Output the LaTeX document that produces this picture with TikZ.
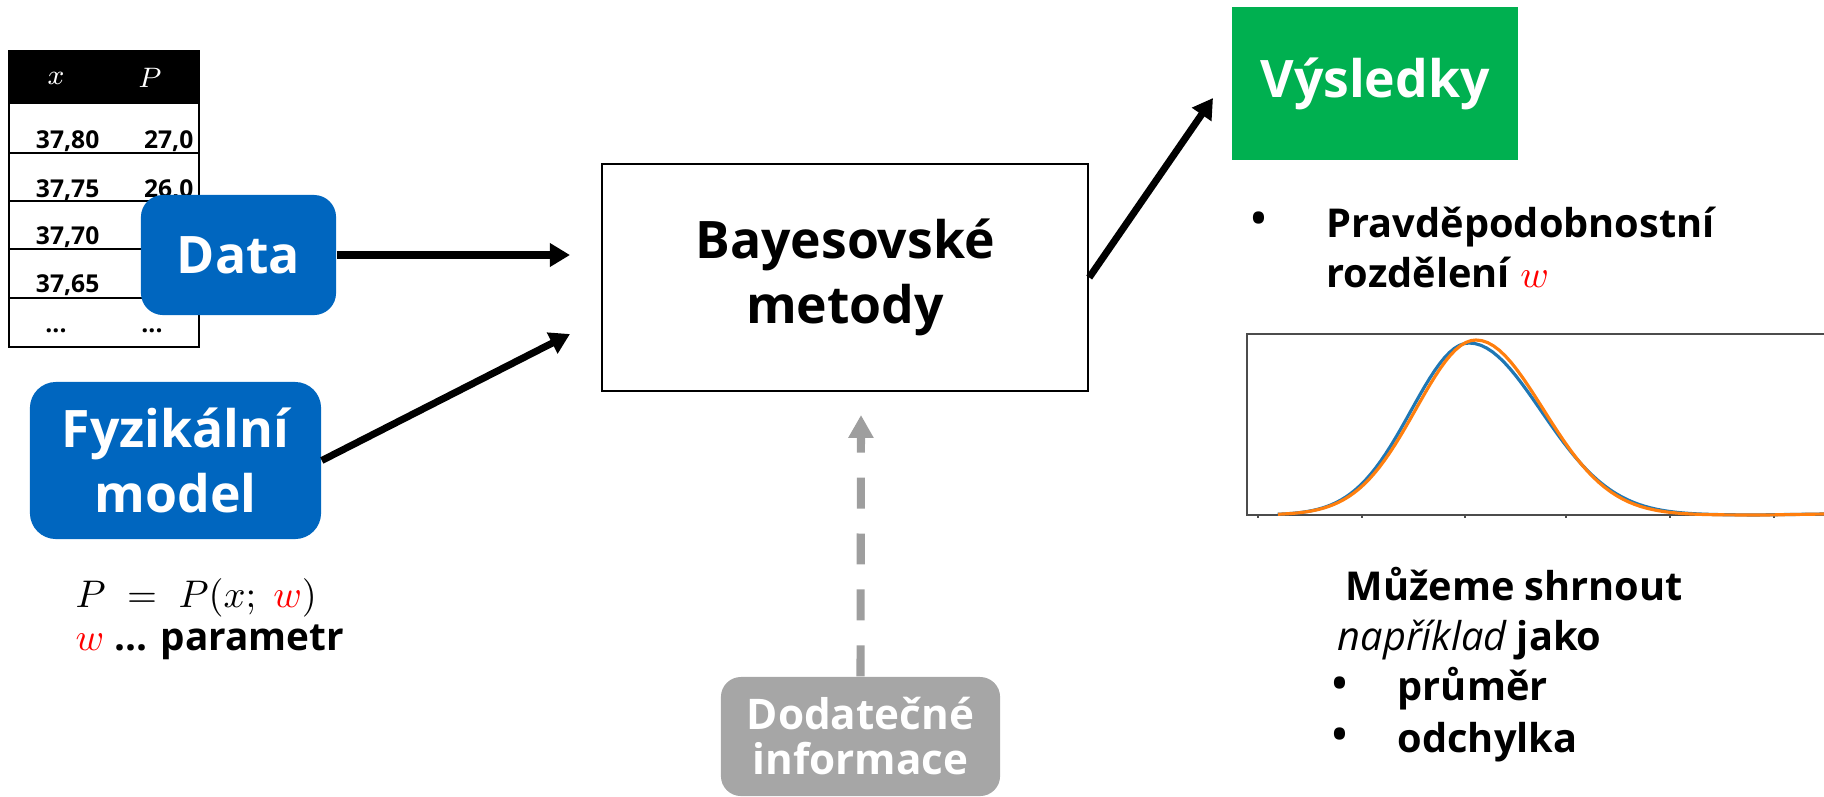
\documentclass[tikz,border=0pt]{standalone}
\usepackage{fontspec}
\setmainfont{Open Sans}
\usetikzlibrary{arrows.meta}

\definecolor{boxblue}{HTML}{0066BF}
\definecolor{resgreen}{HTML}{00B050}
\definecolor{infogray}{HTML}{A6A6A6}
\definecolor{plotblue}{HTML}{1F77B4}
\definecolor{plotorange}{HTML}{FF7F0E}

\newcommand{\boxfont}{\fontsize{14.7}{18.3}\selectfont\bfseries}
\newcommand{\infofont}{\fontsize{12}{12.8}\selectfont\bfseries}
\newcommand{\notefont}{\fontsize{11.3}{14}\selectfont\bfseries}
\newcommand{\eqfont}{\fontsize{11}{13}\selectfont\bfseries}
\newcommand{\cellfont}{\fontsize{7}{8}\selectfont\bfseries}

\begin{document}
\begin{tikzpicture}[x=0.01cm, y=-0.01cm,
    bluebox/.style={fill=boxblue, rounded corners=0.22cm, text=white, font=\boxfont, align=center, inner sep=0pt},
    cell/.style={font=\cellfont, inner sep=0pt},
    note/.style={font=\notefont, inner sep=0pt, anchor=base west},
    flow/.style={line width=2pt, -{Triangle[length=5.7pt, width=6.4pt]}},
    infoflow/.style={line width=2.3pt, infogray!95!black, dash pattern=on 8.8pt off 7.1pt, -{Triangle[length=6.5pt, width=6.8pt]}},
    frame/.style={black!70, line width=0.55pt}]
    \useasboundingbox (0,0) rectangle (1824,796);

    % 1. Data table (partly hidden behind the Data box)
    \fill (9,51) rectangle (199,104);
    \draw[line width=0.4pt] (9,51) rectangle (199,347);
    \foreach \yy in {153,201,249,298} {
        \draw[line width=0.4pt] (9,\yy) -- (199,\yy);
    }
    \node[cell, text=white, font=\fontsize{8.5}{9}\selectfont] (hx) at (56,78) {$x$};
    \node[cell, text=white, font=\fontsize{8.5}{9}\selectfont] (hp) at (150,78) {$P$};
    \node[cell, anchor=base east] (x1) at (100,148) {37,80};
    \node[cell, anchor=base east] (p1) at (194,148) {27,0};
    \node[cell, anchor=base east] (x2) at (100,197) {37,75};
    \node[cell, anchor=base east] (p2) at (194,197) {26,0};
    \node[cell, anchor=base east] (x3) at (100,244) {37,70};
    \node[cell, anchor=base east] (x4) at (100,292) {37,65};
    \node[cell] (xd) at (56,331) {...};
    \node[cell] (pd) at (152,331) {...};

    % 2. Boxes
    \node[bluebox, minimum width=1.95cm, minimum height=1.2cm] (data) at (238.5,255) {Data};
    \node[bluebox, minimum width=2.91cm, minimum height=1.57cm, rounded corners=0.26cm] (model) at (175.5,460.5) {Fyzikální\\model};
    \node[draw, line width=0.6pt, minimum width=4.86cm, minimum height=2.27cm, font=\boxfont, align=center] (bayes) at (845,277.5) {Bayesovské\\metody};
    \node[fill=resgreen, minimum width=2.86cm, minimum height=1.53cm, text=white, font=\boxfont] (res) at (1375,83.5) {Výsledky};
    \node[fill=infogray, rounded corners=0.2cm, minimum width=2.79cm, minimum height=1.19cm, text=white, font=\infofont, align=center] (extra) at (860.5,736.5) {Dodatečné\\informace};

    % 3. Arrows (tips stop short of the boxes)
    \coordinate (dataTip) at (570,255);
    \coordinate (modelTip) at (570,334);
    \coordinate (resTip) at (1213,98);
    \coordinate (extraTip) at (861,415);
    \draw[flow] (data.east) -- (dataTip);
    \draw[flow] (model.east) -- (modelTip);
    \draw[flow] (bayes.east) -- (resTip);
    \draw[infoflow] (extra.north) -- (extraTip);

    % 4. Posterior plot
    \draw[frame] (1824,334) -- (1247,334) -- (1247,515) -- (1824,515);
    \foreach \tx in {1258,1362,1465,1566,1670,1774} {
        \draw[frame] (\tx,515) -- (\tx,518);
    }
    \draw[plotblue, line width=0.9pt]
        plot[domain=-3.3:0, samples=40] ({1469+58*\x},{515-172*exp(-0.5*(\x)^2)})
        -- plot[domain=0:4, samples=50] ({1469+72*\x},{515-172*exp(-0.5*(\x)^2)})
        -- (1824,514);
    \draw[plotorange, line width=0.9pt]
        plot[domain=-3.3:0, samples=40] ({1476+60*\x},{515-175*exp(-0.5*(\x)^2)})
        -- plot[domain=0:4.3, samples=50] ({1476+67*\x},{515-175*exp(-0.5*(\x)^2)})
        -- (1824,514);

    % 5. Texts
    \node[note, font=\eqfont] (eq) at (75,607) {$P\;=\;P(x;\;\textcolor{red}{w})$};
    \node[note, font=\eqfont] (par) at (75,650) {$\textcolor{red}{w}$ ... parametr};

    \node[font=\notefont, inner sep=0pt] (b0) at (1259,222) {•};
    \node[note] (r1) at (1326,237) {Pravděpodobnostní};
    \node[note] (r2) at (1326,287) {rozdělení $\textcolor{red}{w}$};

    \node[note] (s1) at (1345,600) {Můžeme shrnout};
    \node[note] (s2) at (1337,650) {{\mdseries\itshape například} jako};
    \node[font=\notefont, inner sep=0pt] (b1) at (1340,687) {•};
    \node[note] (s3) at (1397,700) {průměr};
    \node[font=\notefont, inner sep=0pt] (b2) at (1340,738) {•};
    \node[note] (s4) at (1397,752) {odchylka};

\end{tikzpicture}
\end{document}
